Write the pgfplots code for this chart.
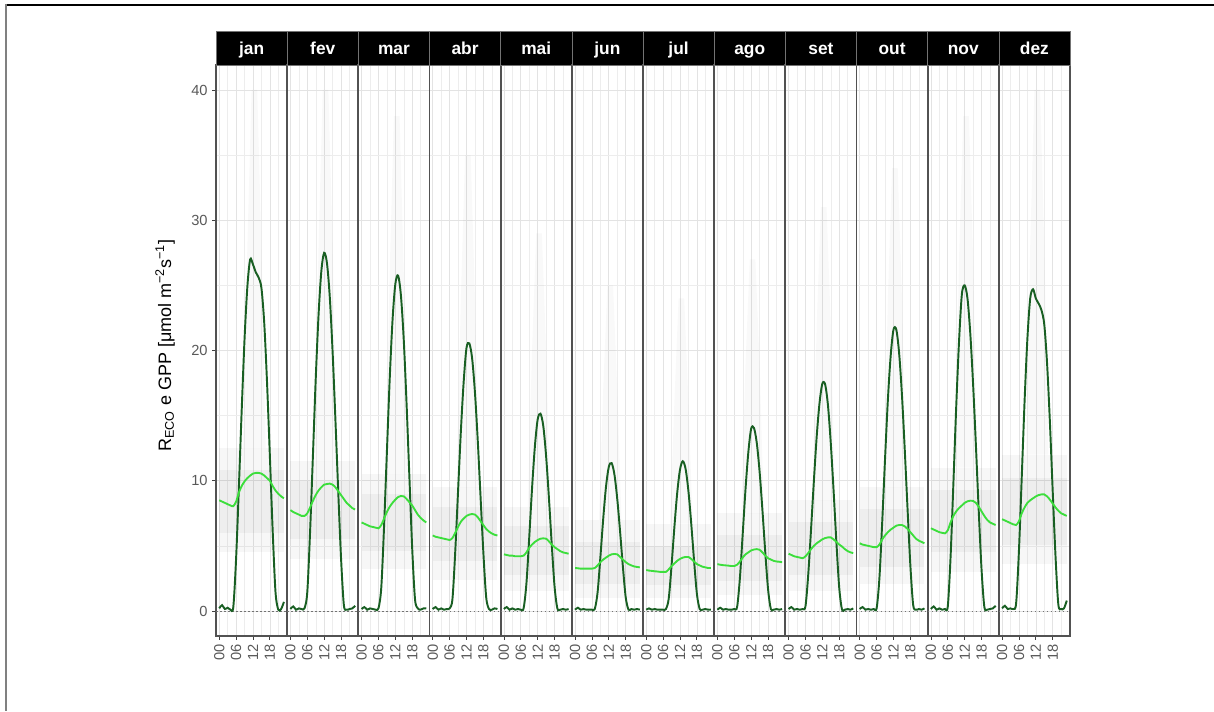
\documentclass[border=0pt]{standalone}
\usepackage{pgfplots}
\pgfplotsset{compat=1.18}
\usepackage{pgfplotstable}
\usepackage{fontspec}
\setmainfont{Liberation Sans}
\definecolor{gppcol}{RGB}{25,95,35}
\definecolor{recocol}{RGB}{60,222,60}
% columns: hour, GPP jan..dez (g1..g12), RECO jan..dez (r1..r12)
\pgfplotstableread{
h g1 g2 g3 g4 g5 g6 g7 g8 g9 g10 g11 g12 r1 r2 r3 r4 r5 r6 r7 r8 r9 r10 r11 r12
0 0.2 0.15 0.15 0.15 0.15 0.1 0.1 0.1 0.15 0.15 0.15 0.2 8.5 7.75 6.8 5.8 4.35 3.3 3.15 3.6 4.4 5.2 6.35 7.05
1 0.45 0.35 0.3 0.3 0.3 0.25 0.2 0.25 0.3 0.3 0.35 0.4 8.4 7.6 6.7 5.7 4.3 3.28 3.1 3.55 4.3 5.1 6.25 6.95
2 0.15 0.1 0.1 0.1 0.1 0.1 0.1 0.1 0.1 0.1 0.1 0.15 8.3 7.5 6.6 5.65 4.25 3.25 3.08 3.52 4.2 5.05 6.15 6.85
3 0.25 0.2 0.2 0.2 0.2 0.15 0.15 0.15 0.15 0.15 0.2 0.2 8.2 7.4 6.5 5.6 4.25 3.25 3.05 3.5 4.15 5.0 6.05 6.75
4 0.1 0.15 0.15 0.1 0.1 0.1 0.1 0.1 0.1 0.1 0.1 0.15 8.1 7.3 6.45 5.55 4.2 3.25 3.03 3.48 4.1 4.95 6.0 6.65
5 0.3 0.2 0.1 0.15 0.15 0.1 0.1 0.1 0.15 0.15 0.15 0.6 8.05 7.3 6.4 5.5 4.2 3.25 3.0 3.45 4.05 4.9 5.96 6.6
6 4.05 1.44 0.2 0.2 0.1 0.1 0.1 0.15 0.35 0.2 0.35 4.65 8.4 7.5 6.35 5.45 4.2 3.25 3.0 3.45 4.2 4.9 6.2 6.9
7 9.6 6.1 1.78 0.9 0.2 0.15 0.15 0.3 2.82 2.54 4.19 10.3 9.1 7.95 6.6 5.6 4.25 3.3 3.0 3.55 4.45 5.1 6.8 7.5
8 15.5 11.9 6.5 4.55 2.1 1.42 0.96 2.54 6.31 6.87 9.83 16.1 9.6 8.45 7.1 6.0 4.5 3.5 3.2 3.8 4.75 5.5 7.3 7.95
9 20.9 17.8 12.2 9.2 5.63 4.13 3.49 5.93 10.0 11.7 15.7 20.9 9.95 8.9 7.6 6.45 4.85 3.75 3.45 4.1 5.0 5.8 7.65 8.3
10 24.9 22.7 17.8 13.8 9.4 7.06 6.41 9.38 13.4 16.2 20.7 24.0 10.2 9.25 8.0 6.85 5.1 3.95 3.65 4.35 5.2 6.05 7.9 8.5
11 27.0 26.1 22.3 17.6 12.6 9.55 9.04 12.2 15.96 19.6 24.3 24.7 10.4 9.5 8.3 7.1 5.3 4.1 3.85 4.5 5.35 6.25 8.1 8.65
12 26.6 27.5 25.1 20.2 14.7 11.07 10.85 14.0 17.45 21.6 25.0 24.0 10.55 9.7 8.55 7.3 5.45 4.25 4.0 4.65 5.5 6.4 8.3 8.8
13 26.0 26.7 25.75 20.55 15.15 11.35 11.5 14.05 17.4 21.6 24.0 23.6 10.6 9.75 8.75 7.4 5.55 4.35 4.1 4.72 5.6 6.55 8.42 8.9
14 25.6 24.1 24.2 19.4 14.2 10.47 10.9 12.9 15.8 19.8 21.3 23.1 10.6 9.78 8.83 7.45 5.58 4.38 4.15 4.75 5.65 6.6 8.47 8.95
15 24.8 19.9 20.8 16.8 11.9 8.6 9.2 10.7 12.9 16.6 17.4 22.0 10.55 9.7 8.8 7.4 5.55 4.35 4.15 4.7 5.65 6.6 8.45 8.95
16 22.1 14.7 15.9 13.1 8.7 6.1 6.7 7.76 9.24 12.4 12.7 19.0 10.4 9.5 8.6 7.2 5.35 4.15 4.0 4.5 5.5 6.5 8.3 8.8
17 17.5 9.2 10.3 8.75 5.14 3.4 3.88 4.56 5.28 7.83 7.7 14.5 10.2 9.2 8.35 6.9 5.1 3.95 3.8 4.25 5.3 6.3 8.0 8.55
18 11.9 4.07 4.8 4.47 1.9 1.05 1.33 1.69 1.8 3.49 3.2 9.2 10.0 8.9 8.1 6.6 4.9 3.75 3.6 4.05 5.1 6.05 7.65 8.25
19 6.15 0.46 0.9 1.06 0.2 0.1 0.15 0.15 0.1 0.45 0.3 4.2 9.6 8.6 7.75 6.3 4.75 3.6 3.5 3.95 4.95 5.8 7.3 7.95
20 1.46 0.1 0.2 0.15 0.1 0.15 0.1 0.1 0.1 0.1 0.1 0.5 9.25 8.3 7.4 6.1 4.6 3.5 3.4 3.85 4.75 5.55 7.0 7.7
21 0.1 0.15 0.1 0.1 0.15 0.1 0.15 0.15 0.15 0.15 0.15 0.15 9.0 8.1 7.15 5.95 4.5 3.42 3.35 3.8 4.6 5.4 6.8 7.5
22 0.15 0.2 0.2 0.2 0.1 0.15 0.1 0.1 0.1 0.1 0.2 0.2 8.8 7.9 6.95 5.85 4.45 3.38 3.3 3.78 4.5 5.3 6.7 7.4
23 0.7 0.4 0.2 0.15 0.15 0.1 0.1 0.15 0.2 0.2 0.4 0.8 8.65 7.8 6.8 5.8 4.4 3.35 3.3 3.75 4.45 5.2 6.6 7.3
}\fluxdata
\begin{document}
\begin{tikzpicture}
\path[use as bounding box] (0,0) rectangle (910.5pt,533.25pt);
\draw[black, line width=0.8pt] (3.75pt,529.5pt) -- (910.5pt,529.5pt);
\draw[black!50, line width=1.3pt] (4.5pt,529.9pt) -- (4.5pt,0pt);
\foreach \k/\name/\cL/\cB/\cT/\cM/\iL/\iB in {0/jan/4.5/12.5/40/28/6/10.8, 1/fev/4.0/11.5/40/28/5.5/10, 2/mar/3.2/10.5/38/26/4.6/9, 3/abr/2.4/9.5/35/24/3.8/8, 4/mai/1.5/8/29/20/2.8/6.5, 5/jun/1.0/7/25/17/2.1/5.3, 6/jul/1.0/6.7/24/16/2/5, 7/ago/1.2/7.5/27/19/2.3/5.8, 8/set/1.5/8.5/31/22/2.8/6.8, 9/out/2.1/9.5/34/24/3.4/7.8, 10/nov/3.0/11/38/27/4.5/9.3, 11/dez/3.6/12/40/28/5.1/10.2}{
  \pgfmathsetmacro\xl{162+53.375*\k}
  \pgfmathtruncatemacro\gi{\k+1}
  \pgfmathtruncatemacro\ri{\k+13}
  \ifnum\k=0
    \pgfplotsset{ylabs/.style={}}
  \else
    \pgfplotsset{ylabs/.style={yticklabels={}, ytick style={draw=none}}}
  \fi
  \begin{axis}[
    at={(\xl pt,56.25pt)}, anchor=south west,
    scale only axis, width=53.375pt, height=428.25pt,
    xmin=-1.15, xmax=24.15, ymin=-1.92, ymax=41.92,
    xtick={0,6,12,18}, xticklabels={00,06,12,18},
    minor xtick={3,9,15,21},
    ytick={0,10,20,30,40}, minor ytick={5,15,25,35},
    grid=both,
    major grid style={black!11, line width=0.5pt},
    minor grid style={black!7, line width=0.3pt},
    axis line style={black!68, line width=1.3pt},
    tick align=outside, xtick pos=bottom, ytick pos=left,
    major tick length=2.75pt, minor tick length=0pt,
    tick style={black!75, line width=0.6pt},
    /pgf/number format/assume math mode=true,
    tick label style={font=\fontsize{11}{13}\selectfont, text=black!65},
    xticklabel style={rotate=90, anchor=east},
    ylabs,
  ]
    \addplot[draw=none, fill=black, fill opacity=0.03] coordinates {(0,\cL) (23,\cL) (23,\cB) (0,\cB)} -- cycle;
    \addplot[draw=none, fill=black, fill opacity=0.035] coordinates {(0,\iL) (23,\iL) (23,\iB) (0,\iB)} -- cycle;
    \addplot[draw=none, fill=black, fill opacity=0.025] coordinates {(8.5,\cB) (10,\cM) (11.5,\cT) (13.5,\cT) (15,\cM) (16.5,\cB)} -- cycle;
    \addplot[black!55, dash pattern=on 1.2pt off 1.8pt, line width=0.5pt] coordinates {(-1.15,0) (24.15,0)};
    \addplot[gppcol, line width=1.45pt, smooth, tension=0.5] table[x index=0, y index=\gi] {\fluxdata};
    \addplot[recocol, line width=1.4pt, smooth, tension=0.5] table[x index=0, y index=\ri] {\fluxdata};
  \end{axis}
  \fill[black] (\xl pt,484.5pt) rectangle ++(53.375pt,25.5pt);
  \draw[black!55, line width=0.5pt] (\xl pt,484.5pt) rectangle ++(53.375pt,25.5pt);
  \node[anchor=base, text=white, font=\fontsize{13}{15}\selectfont\bfseries] at (\xl pt+26.69pt,492.5pt) {\name};
}
\node[rotate=90, font=\fontsize{13.5}{16}\selectfont] at (123.75pt,274pt) {R\textsubscript{ECO} e GPP [μmol m\textsuperscript{−2}s\textsuperscript{−1}]};
\end{tikzpicture}
\end{document}
